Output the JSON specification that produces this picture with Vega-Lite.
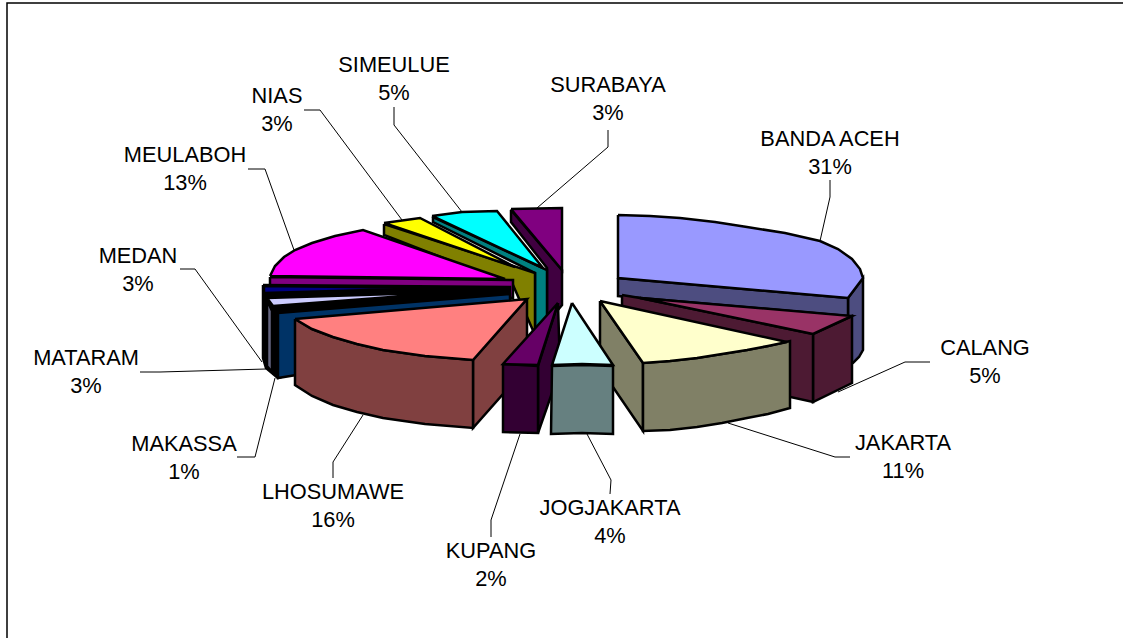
{"$schema":"https://vega.github.io/schema/vega-lite/v6.json","width":1123,"height":638,"padding":0,"autosize":"none","background":"white","config":{"view":{"stroke":null}},
"datasets":{
"faces":[
{"n":1,"face":"sb1","tone":"SURABAYA side","x":511,"y":210},{"n":2,"face":"sb1","tone":"SURABAYA side","x":562,"y":270},{"n":3,"face":"sb1","tone":"SURABAYA side","x":562,"y":305},{"n":4,"face":"sb1","tone":"SURABAYA side","x":547,"y":323},{"n":5,"face":"sb1","tone":"SURABAYA side","x":547,"y":268},{"n":6,"face":"sb1","tone":"SURABAYA side","x":511,"y":222},{"n":7,"face":"sb1","tone":"SURABAYA side","x":511,"y":210},
{"n":8,"face":"sb2","tone":"SURABAYA top","x":511,"y":209},{"n":9,"face":"sb2","tone":"SURABAYA top","x":562,"y":208},{"n":10,"face":"sb2","tone":"SURABAYA top","x":562,"y":270},{"n":11,"face":"sb2","tone":"SURABAYA top","x":511,"y":209},
{"n":12,"face":"si1","tone":"SIMEULUE side","x":433,"y":217},{"n":13,"face":"si1","tone":"SIMEULUE side","x":547,"y":270},{"n":14,"face":"si1","tone":"SIMEULUE side","x":547,"y":323},{"n":15,"face":"si1","tone":"SIMEULUE side","x":535,"y":335},{"n":16,"face":"si1","tone":"SIMEULUE side","x":535,"y":273},{"n":17,"face":"si1","tone":"SIMEULUE side","x":433,"y":222},{"n":18,"face":"si1","tone":"SIMEULUE side","x":433,"y":217},
{"n":19,"face":"si2","tone":"SIMEULUE top","x":432,"y":216},{"n":20,"face":"si2","tone":"SIMEULUE top","x":462,"y":212},{"n":21,"face":"si2","tone":"SIMEULUE top","x":497,"y":211},{"n":22,"face":"si2","tone":"SIMEULUE top","x":543,"y":268},{"n":23,"face":"si2","tone":"SIMEULUE top","x":432,"y":216},
{"n":24,"face":"ni1","tone":"NIAS side","x":384,"y":224},{"n":25,"face":"ni1","tone":"NIAS side","x":535,"y":273},{"n":26,"face":"ni1","tone":"NIAS side","x":535,"y":335},{"n":27,"face":"ni1","tone":"NIAS side","x":513,"y":285},{"n":28,"face":"ni1","tone":"NIAS side","x":384,"y":235},{"n":29,"face":"ni1","tone":"NIAS side","x":384,"y":224},
{"n":30,"face":"ni2","tone":"NIAS top","x":384,"y":223},{"n":31,"face":"ni2","tone":"NIAS top","x":420,"y":218},{"n":32,"face":"ni2","tone":"NIAS top","x":515,"y":267},{"n":33,"face":"ni2","tone":"NIAS top","x":384,"y":223},
{"n":34,"face":"me1","tone":"MEULABOH side","x":270,"y":277},{"n":35,"face":"me1","tone":"MEULABOH side","x":513,"y":280},{"n":36,"face":"me1","tone":"MEULABOH side","x":513,"y":298},{"n":37,"face":"me1","tone":"MEULABOH side","x":270,"y":287},{"n":38,"face":"me1","tone":"MEULABOH side","x":270,"y":277},
{"n":39,"face":"me2","tone":"MEULABOH top","x":270,"y":276},{"n":40,"face":"me2","tone":"MEULABOH top","x":275,"y":266},{"n":40.5,"face":"me2","tone":"MEULABOH top","x":284,"y":257},{"n":41,"face":"me2","tone":"MEULABOH top","x":295,"y":250},{"n":41.5,"face":"me2","tone":"MEULABOH top","x":312,"y":243},{"n":42,"face":"me2","tone":"MEULABOH top","x":335,"y":236},{"n":43,"face":"me2","tone":"MEULABOH top","x":363,"y":230},{"n":44,"face":"me2","tone":"MEULABOH top","x":505,"y":279},{"n":45,"face":"me2","tone":"MEULABOH top","x":270,"y":276},
{"n":46,"face":"md1","tone":"MEDAN side","x":263,"y":285},{"n":47,"face":"md1","tone":"MEDAN side","x":510,"y":287},{"n":48,"face":"md1","tone":"MEDAN side","x":510,"y":302},{"n":49,"face":"md1","tone":"MEDAN side","x":278,"y":378},{"n":50,"face":"md1","tone":"MEDAN side","x":266,"y":368},{"n":51,"face":"md1","tone":"MEDAN side","x":263,"y":358},{"n":52,"face":"md1","tone":"MEDAN side","x":263,"y":285},
{"n":53,"face":"md2","tone":"MEDAN top","x":264,"y":286},{"n":54,"face":"md2","tone":"MEDAN top","x":440,"y":288},{"n":55,"face":"md2","tone":"MEDAN top","x":264,"y":293},{"n":56,"face":"md2","tone":"MEDAN top","x":264,"y":286},
{"n":57,"face":"ma1","tone":"MATARAM side","x":267,"y":300},{"n":58,"face":"ma1","tone":"MATARAM side","x":272,"y":311},{"n":59,"face":"ma1","tone":"MATARAM side","x":272,"y":372},{"n":60,"face":"ma1","tone":"MATARAM side","x":267,"y":366},{"n":61,"face":"ma1","tone":"MATARAM side","x":267,"y":300},
{"n":62,"face":"ma2","tone":"MATARAM top","x":267,"y":298},{"n":63,"face":"ma2","tone":"MATARAM top","x":457,"y":292},{"n":64,"face":"ma2","tone":"MATARAM top","x":273,"y":306},{"n":65,"face":"ma2","tone":"MATARAM top","x":267,"y":298},
{"n":66,"face":"mk1","tone":"MAKASSA side","x":278,"y":313},{"n":67,"face":"mk1","tone":"MAKASSA side","x":510,"y":294},{"n":68,"face":"mk1","tone":"MAKASSA side","x":510,"y":340},{"n":69,"face":"mk1","tone":"MAKASSA side","x":278,"y":378},{"n":70,"face":"mk1","tone":"MAKASSA side","x":278,"y":313},
{"n":71,"face":"lh1","tone":"LHOSUMAWE side","x":527,"y":299},{"n":72,"face":"lh1","tone":"LHOSUMAWE side","x":473,"y":360},{"n":73,"face":"lh1","tone":"LHOSUMAWE side","x":473,"y":428},{"n":74,"face":"lh1","tone":"LHOSUMAWE side","x":527,"y":367},{"n":75,"face":"lh1","tone":"LHOSUMAWE side","x":527,"y":299},
{"n":76,"face":"lh2","tone":"LHOSUMAWE side","x":295,"y":319},{"n":76.5,"face":"lh2","tone":"LHOSUMAWE side","x":312,"y":329},{"n":77,"face":"lh2","tone":"LHOSUMAWE side","x":333,"y":337},{"n":77.5,"face":"lh2","tone":"LHOSUMAWE side","x":357,"y":344},{"n":78,"face":"lh2","tone":"LHOSUMAWE side","x":383,"y":350},{"n":78.5,"face":"lh2","tone":"LHOSUMAWE side","x":425,"y":356},{"n":79,"face":"lh2","tone":"LHOSUMAWE side","x":473,"y":360},{"n":80,"face":"lh2","tone":"LHOSUMAWE side","x":473,"y":428},{"n":80.5,"face":"lh2","tone":"LHOSUMAWE side","x":425,"y":424},{"n":81,"face":"lh2","tone":"LHOSUMAWE side","x":383,"y":418},{"n":81.5,"face":"lh2","tone":"LHOSUMAWE side","x":357,"y":412},{"n":82,"face":"lh2","tone":"LHOSUMAWE side","x":333,"y":405},{"n":82.5,"face":"lh2","tone":"LHOSUMAWE side","x":312,"y":396},{"n":83,"face":"lh2","tone":"LHOSUMAWE side","x":295,"y":385},{"n":84,"face":"lh2","tone":"LHOSUMAWE side","x":295,"y":319},
{"n":85,"face":"lh3","tone":"LHOSUMAWE top","x":295,"y":319},{"n":86,"face":"lh3","tone":"LHOSUMAWE top","x":527,"y":299},{"n":87,"face":"lh3","tone":"LHOSUMAWE top","x":473,"y":360},{"n":88,"face":"lh3","tone":"LHOSUMAWE top","x":425,"y":356},{"n":89,"face":"lh3","tone":"LHOSUMAWE top","x":383,"y":350},{"n":89.5,"face":"lh3","tone":"LHOSUMAWE top","x":357,"y":344},{"n":90,"face":"lh3","tone":"LHOSUMAWE top","x":333,"y":337},{"n":90.5,"face":"lh3","tone":"LHOSUMAWE top","x":312,"y":329},{"n":91,"face":"lh3","tone":"LHOSUMAWE top","x":295,"y":319},
{"n":92,"face":"ku1","tone":"KUPANG side","x":558,"y":303},{"n":93,"face":"ku1","tone":"KUPANG side","x":538,"y":366},{"n":94,"face":"ku1","tone":"KUPANG side","x":538,"y":433},{"n":95,"face":"ku1","tone":"KUPANG side","x":560,"y":370},{"n":96,"face":"ku1","tone":"KUPANG side","x":558,"y":303},
{"n":97,"face":"ku2","tone":"KUPANG side","x":503,"y":364},{"n":98,"face":"ku2","tone":"KUPANG side","x":538,"y":366},{"n":99,"face":"ku2","tone":"KUPANG side","x":538,"y":433},{"n":100,"face":"ku2","tone":"KUPANG side","x":503,"y":432},{"n":101,"face":"ku2","tone":"KUPANG side","x":503,"y":364},
{"n":102,"face":"ku3","tone":"KUPANG top","x":558,"y":303},{"n":103,"face":"ku3","tone":"KUPANG top","x":538,"y":365},{"n":104,"face":"ku3","tone":"KUPANG top","x":503,"y":364},{"n":105,"face":"ku3","tone":"KUPANG top","x":558,"y":303},
{"n":106,"face":"ba1","tone":"BANDA ACEH side","x":848,"y":298},{"n":107,"face":"ba1","tone":"BANDA ACEH side","x":863,"y":278},{"n":108,"face":"ba1","tone":"BANDA ACEH side","x":863,"y":350},{"n":108.5,"face":"ba1","tone":"BANDA ACEH side","x":859,"y":357},{"n":109,"face":"ba1","tone":"BANDA ACEH side","x":853,"y":363},{"n":110,"face":"ba1","tone":"BANDA ACEH side","x":848,"y":365},{"n":111,"face":"ba1","tone":"BANDA ACEH side","x":848,"y":298},
{"n":112,"face":"ba2","tone":"BANDA ACEH side","x":618,"y":278},{"n":113,"face":"ba2","tone":"BANDA ACEH side","x":848,"y":298},{"n":114,"face":"ba2","tone":"BANDA ACEH side","x":848,"y":316},{"n":115,"face":"ba2","tone":"BANDA ACEH side","x":618,"y":296},{"n":116,"face":"ba2","tone":"BANDA ACEH side","x":618,"y":278},
{"n":117,"face":"ba3","tone":"BANDA ACEH top","x":618,"y":215},{"n":117.5,"face":"ba3","tone":"BANDA ACEH top","x":650,"y":216},{"n":118,"face":"ba3","tone":"BANDA ACEH top","x":680,"y":218},{"n":118.5,"face":"ba3","tone":"BANDA ACEH top","x":715,"y":222},{"n":119,"face":"ba3","tone":"BANDA ACEH top","x":747,"y":227},{"n":119.5,"face":"ba3","tone":"BANDA ACEH top","x":785,"y":233},{"n":120,"face":"ba3","tone":"BANDA ACEH top","x":820,"y":241},{"n":120.5,"face":"ba3","tone":"BANDA ACEH top","x":838,"y":249},{"n":121,"face":"ba3","tone":"BANDA ACEH top","x":852,"y":259},{"n":122,"face":"ba3","tone":"BANDA ACEH top","x":860,"y":269},{"n":123,"face":"ba3","tone":"BANDA ACEH top","x":863,"y":278},{"n":124,"face":"ba3","tone":"BANDA ACEH top","x":848,"y":298},{"n":125,"face":"ba3","tone":"BANDA ACEH top","x":618,"y":278},{"n":126,"face":"ba3","tone":"BANDA ACEH top","x":618,"y":215},
{"n":127,"face":"ca1","tone":"CALANG side","x":813,"y":334},{"n":128,"face":"ca1","tone":"CALANG side","x":852,"y":316},{"n":129,"face":"ca1","tone":"CALANG side","x":852,"y":383},{"n":130,"face":"ca1","tone":"CALANG side","x":813,"y":402},{"n":131,"face":"ca1","tone":"CALANG side","x":813,"y":334},
{"n":132,"face":"ca2","tone":"CALANG side","x":622,"y":295},{"n":133,"face":"ca2","tone":"CALANG side","x":640,"y":298},{"n":134,"face":"ca2","tone":"CALANG side","x":813,"y":334},{"n":135,"face":"ca2","tone":"CALANG side","x":813,"y":402},{"n":136,"face":"ca2","tone":"CALANG side","x":622,"y":360},{"n":137,"face":"ca2","tone":"CALANG side","x":622,"y":295},
{"n":138,"face":"ca3","tone":"CALANG top","x":640,"y":298},{"n":139,"face":"ca3","tone":"CALANG top","x":852,"y":316},{"n":140,"face":"ca3","tone":"CALANG top","x":813,"y":334},{"n":141,"face":"ca3","tone":"CALANG top","x":640,"y":298},
{"n":142,"face":"ja1","tone":"JAKARTA side","x":600,"y":301},{"n":143,"face":"ja1","tone":"JAKARTA side","x":643,"y":363},{"n":144,"face":"ja1","tone":"JAKARTA side","x":643,"y":431},{"n":145,"face":"ja1","tone":"JAKARTA side","x":600,"y":368},{"n":146,"face":"ja1","tone":"JAKARTA side","x":600,"y":301},
{"n":147,"face":"ja2","tone":"JAKARTA side","x":643,"y":363},{"n":147.5,"face":"ja2","tone":"JAKARTA side","x":670,"y":361},{"n":148,"face":"ja2","tone":"JAKARTA side","x":697,"y":358},{"n":148.5,"face":"ja2","tone":"JAKARTA side","x":722,"y":354},{"n":149,"face":"ja2","tone":"JAKARTA side","x":747,"y":350},{"n":149.5,"face":"ja2","tone":"JAKARTA side","x":768,"y":346},{"n":150,"face":"ja2","tone":"JAKARTA side","x":790,"y":341},{"n":151,"face":"ja2","tone":"JAKARTA side","x":790,"y":408},{"n":151.5,"face":"ja2","tone":"JAKARTA side","x":768,"y":414},{"n":152,"face":"ja2","tone":"JAKARTA side","x":747,"y":418},{"n":152.5,"face":"ja2","tone":"JAKARTA side","x":722,"y":423},{"n":153,"face":"ja2","tone":"JAKARTA side","x":697,"y":427},{"n":153.5,"face":"ja2","tone":"JAKARTA side","x":670,"y":430},{"n":154,"face":"ja2","tone":"JAKARTA side","x":643,"y":431},{"n":155,"face":"ja2","tone":"JAKARTA side","x":643,"y":363},
{"n":156,"face":"ja3","tone":"JAKARTA top","x":600,"y":301},{"n":157,"face":"ja3","tone":"JAKARTA top","x":787,"y":342},{"n":157.5,"face":"ja3","tone":"JAKARTA top","x":768,"y":346},{"n":158,"face":"ja3","tone":"JAKARTA top","x":747,"y":350},{"n":158.5,"face":"ja3","tone":"JAKARTA top","x":722,"y":354},{"n":159,"face":"ja3","tone":"JAKARTA top","x":697,"y":358},{"n":159.5,"face":"ja3","tone":"JAKARTA top","x":670,"y":361},{"n":160,"face":"ja3","tone":"JAKARTA top","x":643,"y":363},{"n":161,"face":"ja3","tone":"JAKARTA top","x":600,"y":301},
{"n":162,"face":"jo1","tone":"JOGJAKARTA side","x":552,"y":366},{"n":163,"face":"jo1","tone":"JOGJAKARTA side","x":582,"y":365},{"n":164,"face":"jo1","tone":"JOGJAKARTA side","x":613,"y":366},{"n":165,"face":"jo1","tone":"JOGJAKARTA side","x":613,"y":434},{"n":166,"face":"jo1","tone":"JOGJAKARTA side","x":582,"y":433},{"n":167,"face":"jo1","tone":"JOGJAKARTA side","x":551,"y":434},{"n":168,"face":"jo1","tone":"JOGJAKARTA side","x":552,"y":366},
{"n":169,"face":"jo2","tone":"JOGJAKARTA top","x":572,"y":303},{"n":170,"face":"jo2","tone":"JOGJAKARTA top","x":613,"y":365},{"n":171,"face":"jo2","tone":"JOGJAKARTA top","x":582,"y":364},{"n":172,"face":"jo2","tone":"JOGJAKARTA top","x":552,"y":365},{"n":173,"face":"jo2","tone":"JOGJAKARTA top","x":572,"y":303}
],
"leaders":[
{"n":1,"slice":"SURABAYA","x":608,"y":130},{"n":2,"slice":"SURABAYA","x":608,"y":147},{"n":3,"slice":"SURABAYA","x":537,"y":208},
{"n":1,"slice":"BANDA ACEH","x":830,"y":180},{"n":2,"slice":"BANDA ACEH","x":830,"y":197},{"n":3,"slice":"BANDA ACEH","x":820,"y":241},
{"n":1,"slice":"CALANG","x":930,"y":362},{"n":2,"slice":"CALANG","x":905,"y":362},{"n":3,"slice":"CALANG","x":838,"y":392},
{"n":1,"slice":"JAKARTA","x":850,"y":457},{"n":2,"slice":"JAKARTA","x":835,"y":457},{"n":3,"slice":"JAKARTA","x":728,"y":423},
{"n":1,"slice":"JOGJAKARTA","x":610,"y":494},{"n":2,"slice":"JOGJAKARTA","x":611,"y":480},{"n":3,"slice":"JOGJAKARTA","x":587,"y":434},
{"n":1,"slice":"KUPANG","x":491,"y":537},{"n":2,"slice":"KUPANG","x":491,"y":520},{"n":3,"slice":"KUPANG","x":520,"y":434},
{"n":1,"slice":"LHOSUMAWE","x":333,"y":478},{"n":2,"slice":"LHOSUMAWE","x":333,"y":462},{"n":3,"slice":"LHOSUMAWE","x":363,"y":415},
{"n":1,"slice":"MAKASSA","x":237,"y":457},{"n":2,"slice":"MAKASSA","x":255,"y":457},{"n":3,"slice":"MAKASSA","x":275,"y":378},
{"n":1,"slice":"MATARAM","x":140,"y":372},{"n":2,"slice":"MATARAM","x":160,"y":372},{"n":3,"slice":"MATARAM","x":266,"y":369},
{"n":1,"slice":"MEDAN","x":180,"y":269},{"n":2,"slice":"MEDAN","x":195,"y":269},{"n":3,"slice":"MEDAN","x":262,"y":362},
{"n":1,"slice":"MEULABOH","x":248,"y":169},{"n":2,"slice":"MEULABOH","x":265,"y":169},{"n":3,"slice":"MEULABOH","x":294,"y":250},
{"n":1,"slice":"NIAS","x":304,"y":110},{"n":2,"slice":"NIAS","x":320,"y":110},{"n":3,"slice":"NIAS","x":402,"y":220},
{"n":1,"slice":"SIMEULUE","x":394,"y":107},{"n":2,"slice":"SIMEULUE","x":394,"y":125},{"n":3,"slice":"SIMEULUE","x":462,"y":212}
],
"labels":[
{"text":"SURABAYA\n3%","x":608,"y":85},{"text":"BANDA ACEH\n31%","x":830,"y":139},{"text":"CALANG\n5%","x":985,"y":348},{"text":"JAKARTA\n11%","x":903,"y":443},{"text":"JOGJAKARTA\n4%","x":610,"y":508},{"text":"KUPANG\n2%","x":491,"y":551},{"text":"LHOSUMAWE\n16%","x":333,"y":492},{"text":"MAKASSA\n1%","x":184,"y":444},{"text":"MATARAM\n3%","x":86,"y":358},{"text":"MEDAN\n3%","x":138,"y":256},{"text":"MEULABOH\n13%","x":185,"y":155},{"text":"NIAS\n3%","x":277,"y":96},{"text":"SIMEULUE\n5%","x":394,"y":65}
],
"frame":[{"n":1,"x":7,"y":638},{"n":2,"x":7,"y":3},{"n":3,"x":1123,"y":3}]
},
"layer":[
{"data":{"name":"frame"},"mark":{"type":"line","stroke":"black","strokeWidth":1.5},"encoding":{"x":{"field":"x","type":"quantitative","scale":{"domain":[0,1123]},"axis":null},"y":{"field":"y","type":"quantitative","scale":{"domain":[638,0]},"axis":null},"order":{"field":"n"}}},
{"data":{"name":"leaders"},"mark":{"type":"line","stroke":"black","strokeWidth":1},"encoding":{"x":{"field":"x","type":"quantitative","scale":{"domain":[0,1123]},"axis":null},"y":{"field":"y","type":"quantitative","scale":{"domain":[638,0]},"axis":null},"detail":{"field":"slice"},"order":{"field":"n"}}},
{"data":{"name":"faces"},"mark":{"type":"line","stroke":"black","strokeWidth":2.5,"strokeJoin":"miter"},"encoding":{"x":{"field":"x","type":"quantitative","scale":{"domain":[0,1123]},"axis":null},"y":{"field":"y","type":"quantitative","scale":{"domain":[638,0]},"axis":null},"detail":{"field":"face"},"order":{"field":"n"},"fill":{"field":"tone","type":"nominal","legend":null,"scale":{"domain":["BANDA ACEH top","BANDA ACEH side","CALANG top","CALANG side","JAKARTA top","JAKARTA side","JOGJAKARTA top","JOGJAKARTA side","KUPANG top","KUPANG side","LHOSUMAWE top","LHOSUMAWE side","MAKASSA side","MATARAM top","MATARAM side","MEDAN top","MEDAN side","MEULABOH top","MEULABOH side","NIAS top","NIAS side","SIMEULUE top","SIMEULUE side","SURABAYA top","SURABAYA side"],"range":["#9999ff","#4d4d80","#993366","#4d1a33","#ffffcc","#808066","#ccffff","#668080","#660066","#330033","#ff8080","#804040","#003366","#ccccff","#666680","#000080","#000000","#ff00ff","#800080","#ffff00","#808000","#00ffff","#008080","#800080","#400040"]}}}},
{"data":{"name":"labels"},"mark":{"type":"text","font":"Liberation Sans","fontSize":21.8,"lineBreak":"\n","lineHeight":28,"align":"center","baseline":"middle","color":"black"},"encoding":{"x":{"field":"x","type":"quantitative","scale":{"domain":[0,1123]},"axis":null},"y":{"field":"y","type":"quantitative","scale":{"domain":[638,0]},"axis":null},"text":{"field":"text"}}}
]}
